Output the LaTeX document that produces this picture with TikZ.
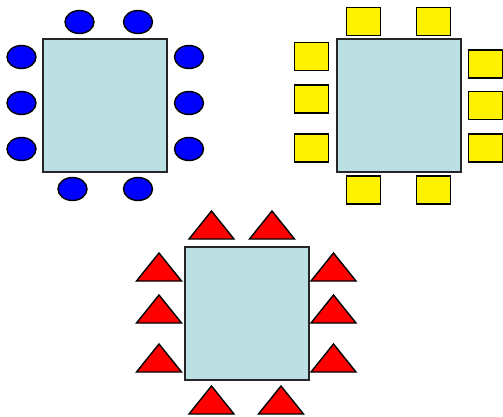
\documentclass[tikz,border=0pt]{standalone}
\usetikzlibrary{shapes.geometric}
\definecolor{tablecol}{HTML}{BBDFE2}
\begin{document}
\begin{tikzpicture}[x=1pt,y=-1pt,
  tbl/.style={draw=black!85, fill=tablecol, line width=1.6pt, inner sep=0pt, minimum width=124pt, minimum height=133pt},
  chairE/.style={ellipse, draw=black, fill=blue, line width=1.4pt, inner sep=0pt, minimum width=29pt, minimum height=23pt},
  chairS/.style={rectangle, draw=black, fill=yellow, line width=1.4pt, inner sep=0pt, minimum width=34pt, minimum height=28pt},
  chairT/.style={draw=black, fill=red, line width=1.4pt, line join=miter}]
\useasboundingbox (0,0) rectangle (503,417);
% table 1
\node[tbl] (t1) at (105,105.5) {};
\foreach \n/\x/\y in {a/79.5/22,b/138/22,c/21.5/57,d/21.5/103,e/21.5/149,f/189/57,g/189/103,h/189/149,i/72.5/189,j/138/189}
  \node[chairE] (e\n) at (\x,\y) {};
% table 2
\node[tbl] (t2) at (399,105.5) {};
\foreach \n/\x/\y in {a/363.5/21.5,b/433.5/21.5,c/311.5/56.5,d/311.5/99,e/311.5/148,f/485.5/64,g/485.5/105.5,h/485.5/148,i/363.5/190,j/433.5/190}
  \node[chairS] (s\n) at (\x,\y) {};
% table 3
\node[tbl] (t3) at (247,313.5) {};
\foreach \x/\y in {211.5/239,272/239,159/281,159/323,159/372,333.5/281,333.5/323,333.5/372,211.5/414,281/414}
  \draw[chairT] (\x-22.5,\y) -- (\x,\y-28) -- (\x+22.5,\y) -- cycle;
\end{tikzpicture}
\end{document}
